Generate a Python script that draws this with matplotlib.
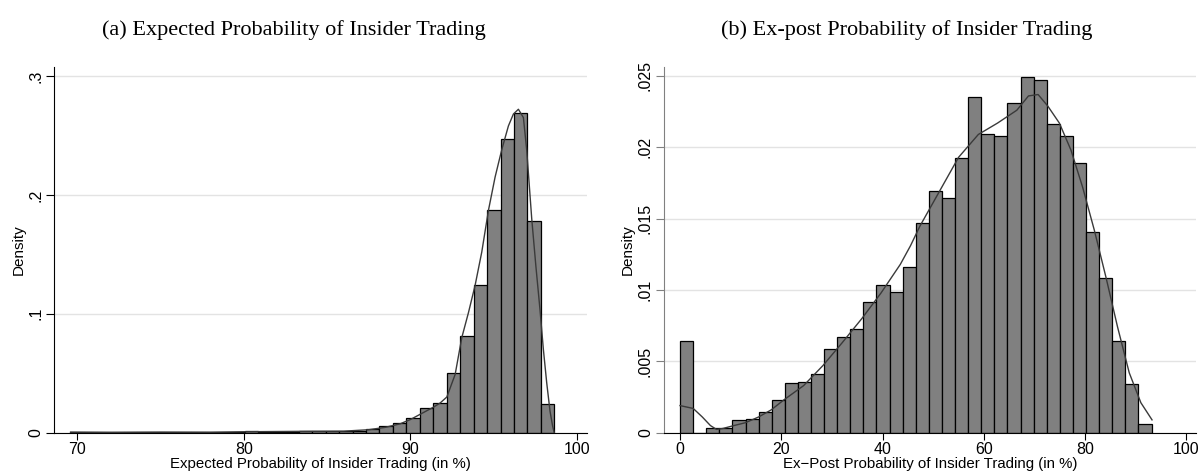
import numpy as np
import matplotlib.pyplot as plt

plt.rcParams['font.family'] = ['Liberation Sans', 'DejaVu Sans']

# ---- panel (a): expected probability of insider trading ----
exp_lo, exp_hi, exp_nbins = 69.57, 98.66, 36
exp_density = [0.0010, 0.0004, 0.0002, 0.0002, 0.0002, 0.0003, 0.0008, 0.0004,
               0.0002, 0.0003, 0.0004, 0.0006, 0.0005, 0.0012, 0.0010, 0.0008,
               0.0010, 0.0014, 0.0016, 0.0015, 0.0013, 0.0016, 0.0030, 0.0059,
               0.0078, 0.0120, 0.0210, 0.0250, 0.0505, 0.0816, 0.1243, 0.1870,
               0.2470, 0.2690, 0.1777, 0.0238]
exp_kde_x = [69.6, 72, 75, 78, 80, 82, 84, 86, 87.5, 88.5, 89.4, 90.0, 90.6,
             91.4, 91.8, 92.2, 92.7, 93.1, 93.5, 93.9, 94.3, 94.7, 95.1, 95.5,
             95.9, 96.2, 96.5, 96.8, 97.0, 97.3, 97.55, 97.8, 98.0, 98.2, 98.4,
             98.55, 98.65]
exp_kde_y = [0.0005, 0.0003, 0.0005, 0.0004, 0.0008, 0.0010, 0.0012, 0.0013,
             0.0025, 0.0045, 0.0075, 0.0110, 0.0155, 0.0215, 0.0250, 0.0300,
             0.0490, 0.0800, 0.1010, 0.1240, 0.1520, 0.1870, 0.2150, 0.2380,
             0.2580, 0.2680, 0.2720, 0.2650, 0.2375, 0.1800, 0.1400, 0.1030,
             0.0700, 0.0420, 0.0180, 0.0060, 0.0]

# ---- panel (b): ex-post probability of insider trading ----
post_lo, post_hi, post_nbins = 0.0, 93.1, 36
post_density = [0.00645, 0.0, 0.00035, 0.00030, 0.00086, 0.00093, 0.00143,
                0.00229, 0.00346, 0.00357, 0.00414, 0.00589, 0.00670, 0.00724,
                0.00918, 0.01033, 0.00984, 0.01161, 0.01472, 0.01692, 0.01647,
                0.01928, 0.02353, 0.02093, 0.02082, 0.02313, 0.02491, 0.02470,
                0.02161, 0.02082, 0.01888, 0.01404, 0.01082, 0.00645, 0.00341,
                0.00058]
post_kde_x = [0, 2.6, 4.4, 6.0, 7.2, 8.5, 10.3, 12.9, 15.5, 18.0, 20.5, 24.4,
              28.2, 32.0, 35.9, 39.7, 43.5, 45.5, 47.4, 51.2, 55.0, 58.9, 62.7,
              66.5, 68.8, 70.7, 72.6, 74.9, 77.2, 79.5, 81.8, 84.1, 86.4, 88.7,
              91.0, 93.2]
post_kde_y = [0.0019, 0.0017, 0.0011, 0.0005, 0.00023, 0.0003, 0.00047, 0.0007,
              0.0011, 0.0016, 0.0023, 0.0033, 0.0047, 0.0063, 0.0080, 0.0098,
              0.0118, 0.0131, 0.0145, 0.0169, 0.0193, 0.0209, 0.0217, 0.0226,
              0.0236, 0.0237, 0.0229, 0.0217, 0.0198, 0.0172, 0.0142, 0.0109,
              0.0074, 0.0042, 0.0021, 0.0009]

exp_xticks = [70, 80, 90, 100]
exp_yticks = [0, 0.1, 0.2, 0.3]
exp_ylabels = ['0', '.1', '.2', '.3']
post_xticks = [0, 20, 40, 60, 80, 100]
post_yticks = [0, 0.005, 0.01, 0.015, 0.02, 0.025]
post_ylabels = ['0', '.005', '.01', '.015', '.02', '.025']

fig = plt.figure(figsize=(11.98, 4.71), dpi=100)
ax1 = fig.add_axes([0.0453, 0.0813, 0.4444, 0.7771])
ax2 = fig.add_axes([0.5543, 0.0813, 0.4441, 0.7771])


def draw(ax, lo, hi, n, dens, kx, ky, xt, yt, yl, xlab, spine_col):
    edges = np.linspace(lo, hi, n + 1)
    ax.bar(edges[:-1], dens, width=np.diff(edges), align='edge',
           color='#808080', edgecolor='black', linewidth=0.9, zorder=2)
    ax.plot(kx, ky, color='#3a3a3a', lw=1.0, zorder=3)
    ax.set_axisbelow(True)
    ax.yaxis.grid(True, color='#e3e3e3', lw=1.0)
    for s in ['top', 'right']:
        ax.spines[s].set_visible(False)
    ax.spines['left'].set_color(spine_col)
    ax.spines['bottom'].set_color('black')
    ax.set_xticks(xt)
    ax.set_yticks(yt)
    ax.set_yticklabels(yl, rotation=90, va='center')
    ax.tick_params(axis='x', length=5, width=0.8, pad=2, labelsize=11.5)
    ax.tick_params(axis='y', length=6, width=0.8, pad=2, labelsize=11.5,
                   color=spine_col)
    ax.set_xlabel(xlab, fontsize=10.8, labelpad=0)
    ax.set_ylabel('Density', fontsize=11, labelpad=2)


draw(ax1, exp_lo, exp_hi, exp_nbins, exp_density, exp_kde_x, exp_kde_y,
     exp_xticks, exp_yticks, exp_ylabels,
     'Expected Probability of Insider Trading (in %)', 'black')
ax1.set_xlim(68.62, 100.6)
ax1.set_ylim(0, 0.3078)

draw(ax2, post_lo, post_hi, post_nbins, post_density, post_kde_x, post_kde_y,
     post_xticks, post_yticks, post_ylabels,
     'Ex\u2212Post Probability of Insider Trading (in %)', '#808080')
ax2.set_xlim(-3.16, 101.9)
ax2.set_ylim(0, 0.02565)

fig.text(294 / 1198, 1 - 35 / 471, '(a) Expected Probability of Insider Trading',
         family='Liberation Serif', size=16, ha='center', va='baseline')
fig.text(907 / 1198, 1 - 35 / 471, '(b) Ex-post Probability of Insider Trading',
         family='Liberation Serif', size=16, ha='center', va='baseline')

fig.savefig('out.png', dpi=100)
